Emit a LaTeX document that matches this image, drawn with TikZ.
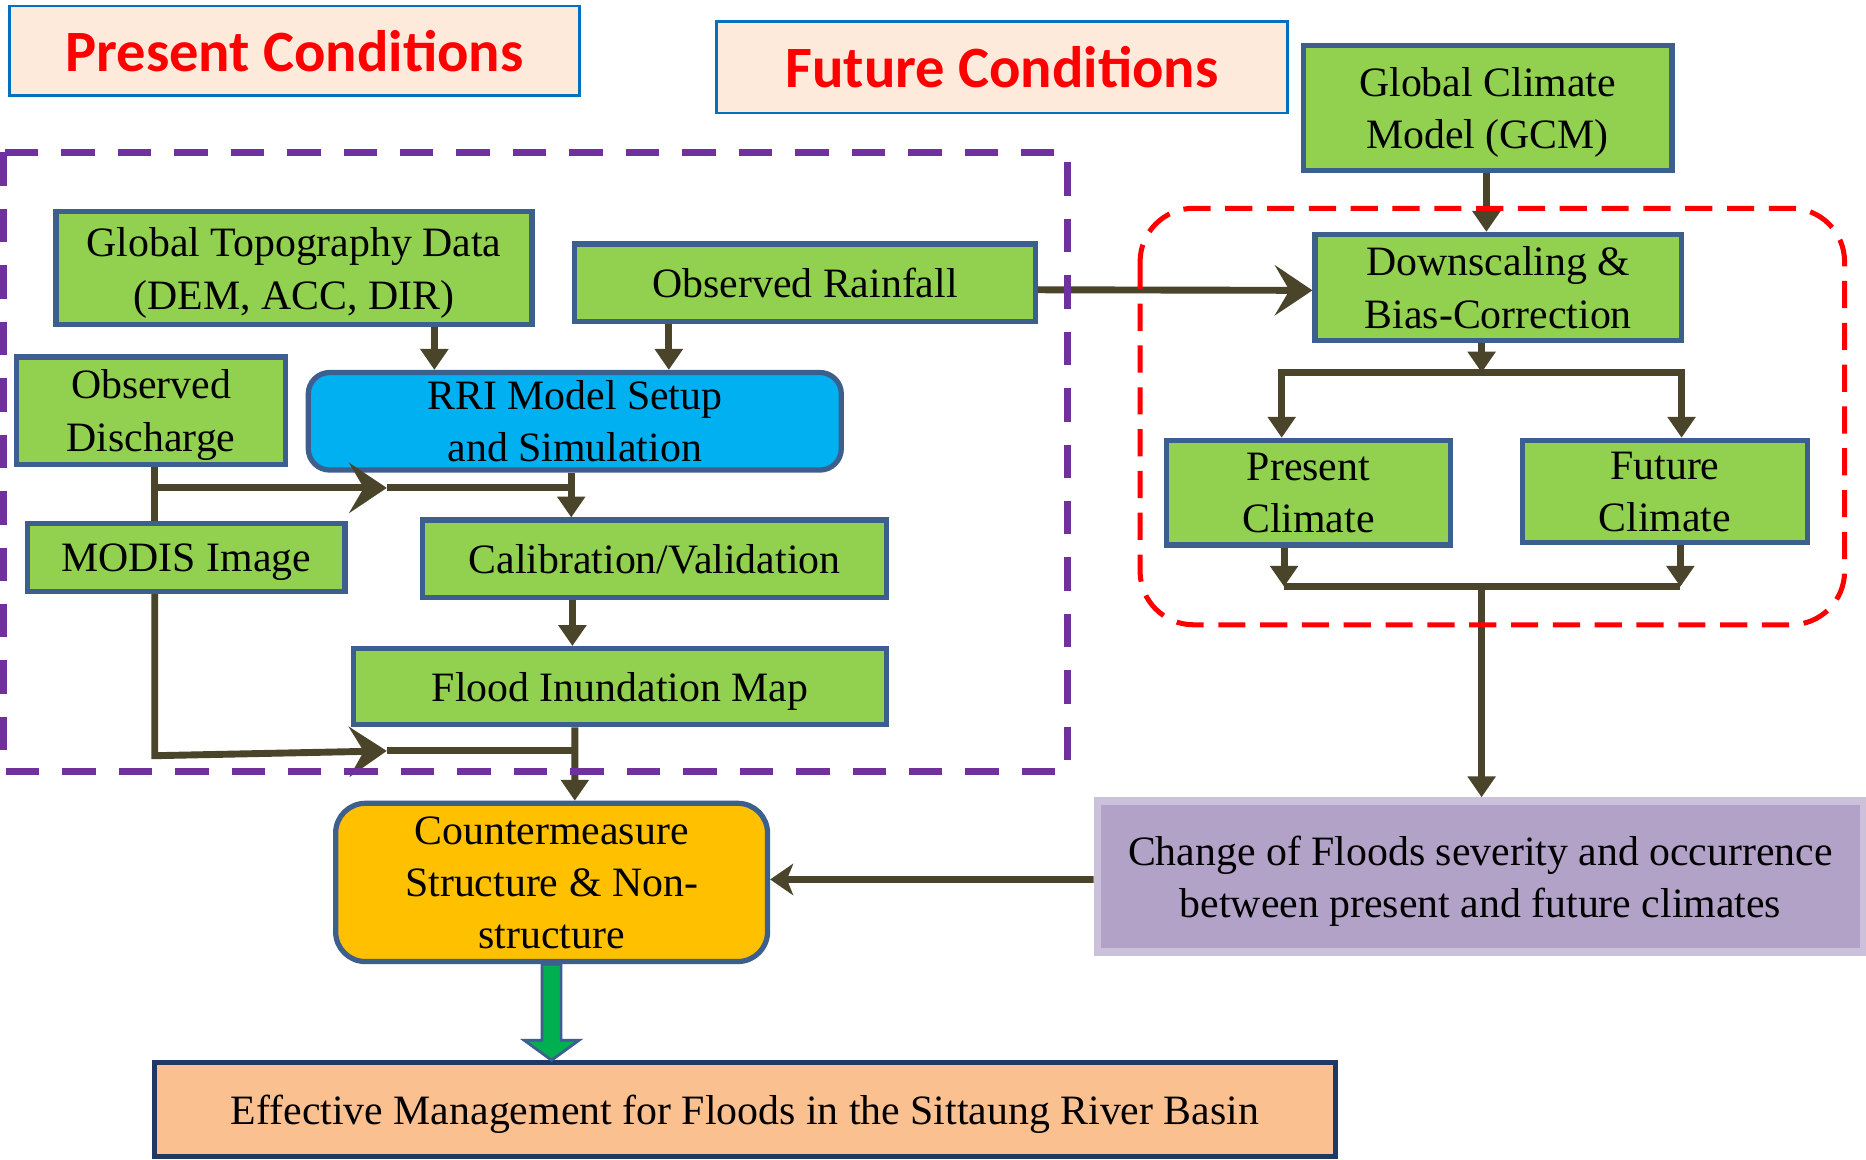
\documentclass[tikz,border=0pt]{standalone}
\usepackage{fontspec}
\setmainfont{Liberation Serif}
\newfontfamily\hdrfont{Carlito}
\usetikzlibrary{arrows.meta,calc}
\definecolor{linec}{HTML}{4A452A}
\definecolor{bordc}{HTML}{3C5F8D}
\definecolor{gfill}{HTML}{92D050}
\definecolor{bfill}{HTML}{00B0F0}
\definecolor{ofill}{HTML}{FFC000}
\definecolor{efill}{HTML}{FAC090}
\definecolor{eborder}{HTML}{203864}
\definecolor{cfill}{HTML}{B3A2C7}
\definecolor{cborder}{HTML}{CCC1DA}
\definecolor{hfill}{HTML}{FDEADA}
\definecolor{hborder}{HTML}{0070C0}
\definecolor{hred}{HTML}{FF0000}
\definecolor{purp}{HTML}{7030A0}
\definecolor{garrow}{HTML}{00B050}
\begin{document}
\begin{tikzpicture}[x=0.02cm,y=-0.02cm,
 body/.style={font=\fontsize{20}{25}\selectfont, align=center, inner sep=0pt, text depth=0pt},
 gbox/.style={body, draw=bordc, line width=2.5pt, fill=gfill},
 hdr/.style={draw=hborder, line width=1.3pt, fill=hfill, text=hred, font=\hdrfont\bfseries\fontsize{28}{32}\selectfont, inner sep=0pt, text depth=0pt},
 conn/.style={draw=linec, line width=3.3pt},
 tri/.style={conn, -{Triangle[length=10pt,width=13pt]}},
 stl/.style={conn, line join=miter, -{Stealth[length=18pt,width=24pt,inset=7pt]}},
]
\useasboundingbox[fill=white] (0,0) rectangle (1568,974);

% headers
\node[hdr, minimum width=9.58cm, minimum height=1.5cm] (pc) at (247.5,42.5) {Present Conditions};
\node[hdr, minimum width=9.6cm, minimum height=1.54cm] (fc) at (842,56.5) {Future Conditions};

% present side
\node[gbox, minimum width=8cm, minimum height=1.9cm] (topo) at (247,225.5) {Global Topography Data\\(DEM, ACC, DIR)};
\node[gbox, minimum width=7.74cm, minimum height=1.3cm] (rain) at (676.5,237.5) {Observed Rainfall};
\node[gbox, minimum width=4.52cm, minimum height=1.8cm] (disc) at (127,345) {Observed\\Discharge};
\node[body, draw=bordc, line width=2.5pt, fill=bfill, rounded corners=0.36cm, minimum width=8.96cm, minimum height=1.64cm] (rri) at (483,354) {RRI Model Setup\\and Simulation};
\node[gbox, minimum width=5.34cm, minimum height=1.14cm] (modis) at (156.5,468.5) {MODIS Image};
\node[gbox, minimum width=7.8cm, minimum height=1.3cm] (cal) at (550,469.5) {Calibration/Validation};
\node[gbox, minimum width=8.96cm, minimum height=1.28cm] (flood) at (521,577) {Flood Inundation Map};

% future side
\node[gbox, minimum width=6.2cm, minimum height=2.1cm] (gcm) at (1250,90.5) {Global Climate\\Model (GCM)};
\node[gbox, minimum width=6.16cm, minimum height=1.78cm] (down) at (1259,241.5) {Downscaling \&\\Bias-Correction};
\node[gbox, minimum width=4.78cm, minimum height=1.76cm] (pcl) at (1099.5,414) {Present\\Climate};
\node[gbox, minimum width=4.8cm, minimum height=1.72cm] (fcl) at (1399,413) {Future\\Climate};

% bottom
\node[body, draw=cborder, line width=3.5pt, fill=cfill, minimum width=12.88cm, minimum height=2.54cm] (chg) at (1244,736.5) {Change of Floods severity and occurrence\\between present and future climates};
\node[body, draw=bordc, line width=2.5pt, fill=ofill, rounded corners=0.5cm, minimum width=7.26cm, minimum height=2.66cm] (cm) at (463.5,741.5) {Countermeasure\\Structure \& Non-\\structure};
\node[body, draw=eborder, line width=2.4pt, fill=efill, minimum width=19.84cm, minimum height=1.58cm] (eff) at (626,932.5) {Effective Management for Floods in the Sittaung River Basin};

% junctions
\coordinate (j1) at (130,410); \coordinate (j2) at (325,410); \coordinate (j3) at (480,410);
\coordinate (k1) at (130,635); \coordinate (k2) at (325,631); \coordinate (k3) at (483,631);
\coordinate (bm) at (1245,313);
\coordinate (c1) at (1079,493); \coordinate (c2) at (1412,493); \coordinate (cmid) at (1245,493);

% left connectors
\draw[tri] ($(topo.south)+(118,0)$) -- ($(rri.north)+(-118,0)$);
\draw[tri] ($(rain.south)+(-114.5,0)$) -- ($(rri.north)+(79,0)$);
\draw[conn] ($(disc.south)+(3,0)$) -- ($(modis.north)+(-26.5,0)$);
\draw[conn] (j2) -- (j3);
\draw[stl] (j1) -- (j2);
\draw[tri] ($(rri.south)+(-3,0)$) -- ($(cal.north)+(-70,0)$);
\draw[tri] ($(cal.south)+(-69,0)$) -- ($(flood.north)+(-40,0)$);
\draw[conn] (k2) -- (k3);
\draw[stl] ($(modis.south)+(-26.5,0)$) -- (k1) -- (k2);
\draw[tri] ($(flood.south)+(-38,0)$) -- ($(cm.north)+(19.5,0)$);

% right connectors
\draw[tri] ($(gcm.south)+(-1,0)$) -- ($(down.north)+(-10,0)$);
\draw[stl] ($(rain.east)+(0,6)$) -- ($(down.west)+(0,2.5)$);
\draw[tri] ($(down.south)+(-14,0)$) -- (bm);
\draw[tri] (bm) -| ($(pcl.north)+(-22.5,0)$);
\draw[tri] (bm) -| ($(fcl.north)+(14,0)$);
\draw[tri] ($(pcl.south)+(-20.5,0)$) -- (c1);
\draw[tri] ($(fcl.south)+(13,0)$) -- (c2);
\draw[conn] (c1) -- (c2);
\draw[tri] (cmid) -- ($(chg.north)+(1,0)$);
\draw[conn, -{Stealth[length=11pt,width=15pt,inset=3pt]}] ($(chg.west)+(0,2.5)$) -- ($(cm.east)+(0,-2.5)$);

% green block arrow
\draw[draw=bordc, line width=1.3pt, fill=garrow, line join=miter]
  ($(cm.south)+(-8,0)$) -- ++(0,64) -- ++(-15,0) -- (eff.north -| cm.south)
  -- ($(cm.south)+(23,64)$) -- ++(-15,0) -- ($(cm.south)+(8,0)$) -- cycle;

% dashed frames
\draw[purp, line width=3.5pt, dash pattern=on 16pt off 11pt] (3,128) rectangle (897,648);
\draw[hred, line width=2.4pt, dash pattern=on 13pt off 7pt, rounded corners=0.9cm] (958,175) rectangle (1550,525);
\end{tikzpicture}
\end{document}
